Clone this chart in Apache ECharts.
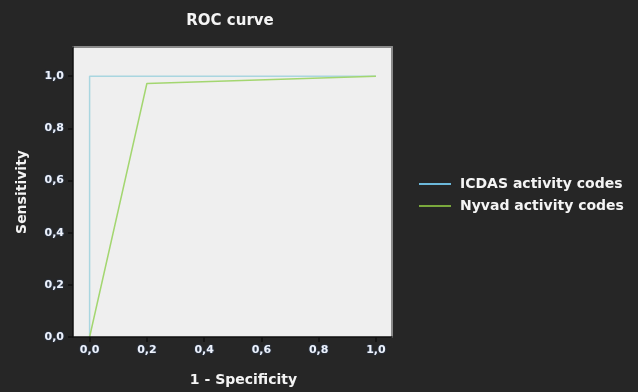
<!DOCTYPE html>
<html>
<head>
<meta charset="utf-8">
<script src="https://cdn.jsdelivr.net/npm/echarts@6/dist/echarts.min.js"></script>
<style>
  html, body { margin: 0; padding: 0; background: #262626; }
  #chart { width: 638px; height: 392px; }
</style>
</head>
<body>
<div id="chart"></div>
<script>
// ROC points, [1 - specificity, sensitivity]
const icdasPoints = [[0, 0], [0, 1], [1, 1]];
const nyvadPoints = [[0, 0], [0.2, 0.972], [1, 1]];
const tickValues = [0, 0.2, 0.4, 0.6, 0.8, 1.0];
const seriesNames = ["ICDAS activity codes", "Nyvad activity codes"];

const fmt = v => v.toFixed(1).replace(".", ",");
const font = "'DejaVu Sans', Arial, sans-serif";

const tickLabel = {
  customValues: tickValues,
  formatter: fmt,
  color: "#eef2fa",
  fontFamily: font,
  fontWeight: "bold",
  fontSize: 11,
  textShadowColor: "rgba(90,140,220,0.6)",
  textShadowBlur: 1.5
};
const nameStyle = { color: "#f4f4f4", fontFamily: font, fontWeight: "bold", fontSize: 14 };
const xRange = { min: -0.058, max: 1.056 };
const yRange = { min: 0, max: 1.112 };

// top and right frame of the plot box
const frameAxis = {
  type: "value",
  axisLine: { show: true, onZero: false, lineStyle: { color: "#8a8a8a", width: 2 } },
  axisTick: { show: false },
  axisLabel: { show: false },
  splitLine: { show: false }
};

const myChart = echarts.init(document.getElementById("chart"));
myChart.setOption({
  backgroundColor: "#262626",
  animation: false,
  title: {
    text: "ROC curve",
    left: 225,
    textAlign: "center",
    top: 9,
    textStyle: Object.assign({}, nameStyle, { fontSize: 15 })
  },
  legend: {
    orient: "vertical",
    left: 414,
    top: 172,
    itemWidth: 32,
    itemHeight: 2,
    itemGap: 8,
    icon: "rect",
    textStyle: Object.assign({ padding: [0, 0, 0, 4] }, nameStyle),
    data: [
      { name: seriesNames[0], itemStyle: { color: "#6cb8da" } },
      { name: seriesNames[1], itemStyle: { color: "#7aa83c" } }
    ]
  },
  grid: {
    left: 73, right: 246, top: 47, bottom: 54,
    show: true,
    backgroundColor: "#efefef",
    borderWidth: 0
  },
  xAxis: [
    Object.assign({
      name: "1 - Specificity",
      nameLocation: "middle",
      nameGap: 36,
      nameTextStyle: Object.assign({ padding: [0, 0, 0, 22] }, nameStyle),
      axisLine: { show: true, onZero: false, lineStyle: { color: "#111", width: 1.5 } },
      axisTick: { show: true, customValues: tickValues, length: 5, lineStyle: { color: "#111", width: 1.5 } },
      axisLabel: Object.assign({ margin: 8 }, tickLabel),
      splitLine: { show: false },
      type: "value",
      position: "bottom",
      z: 5
    }, xRange),
    Object.assign({ position: "top" }, frameAxis, xRange)
  ],
  yAxis: [
    Object.assign({
      name: "Sensitivity",
      nameLocation: "middle",
      nameGap: 44,
      nameTextStyle: nameStyle,
      axisLine: { show: true, onZero: false, lineStyle: { color: "#111", width: 1.5 } },
      axisTick: { show: true, customValues: tickValues, length: 5, lineStyle: { color: "#111", width: 1.5 } },
      axisLabel: Object.assign({ margin: 9 }, tickLabel),
      splitLine: { show: false },
      type: "value",
      position: "left",
      z: 5
    }, yRange),
    Object.assign({ position: "right" }, frameAxis, yRange)
  ],
  series: [
    {
      name: seriesNames[0],
      type: "line",
      data: icdasPoints,
      showSymbol: false,
      color: "#6cb8da",
      lineStyle: { color: "#a9d6e0", width: 1.5 }
    },
    {
      name: seriesNames[1],
      type: "line",
      data: nyvadPoints,
      showSymbol: false,
      color: "#7aa83c",
      lineStyle: { color: "#a3d670", width: 1.5 }
    }
  ]
});
</script>
</body>
</html>
